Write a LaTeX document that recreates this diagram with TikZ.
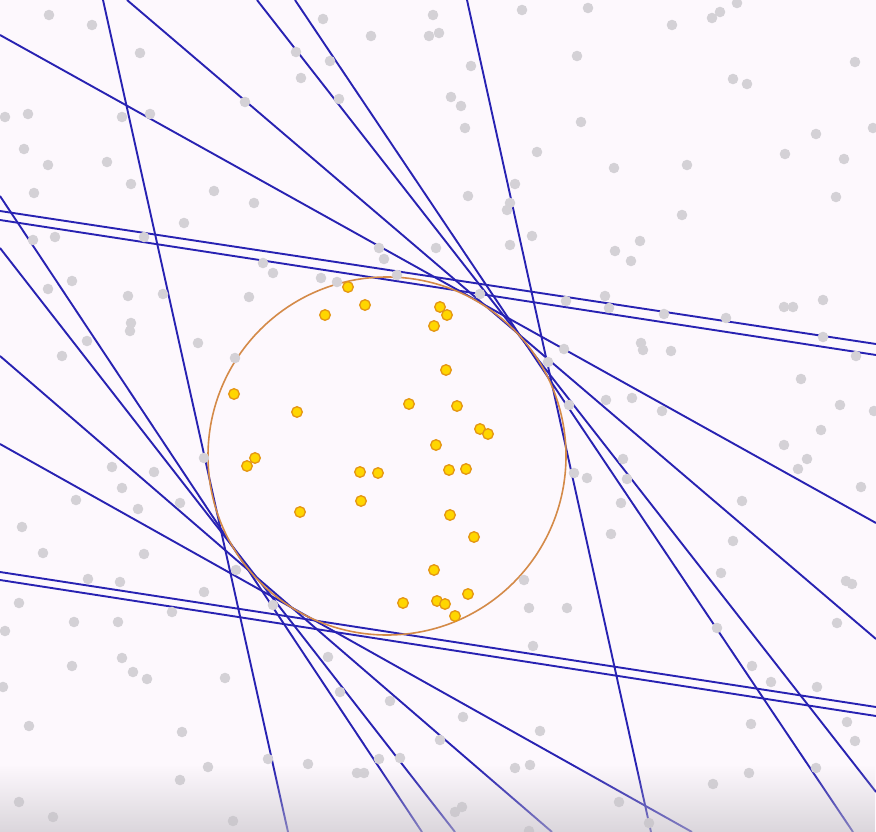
\documentclass[tikz,border=0pt]{standalone}
\usetikzlibrary{fadings}
\definecolor{bgc}{RGB}{253,248,253}
\definecolor{linec}{RGB}{40,34,178}
\definecolor{circc}{RGB}{212,138,72}
\definecolor{grayd}{RGB}{212,209,214}
\definecolor{yelf}{RGB}{255,214,0}
\definecolor{yeld}{RGB}{228,150,20}
\definecolor{fadec}{RGB}{196,192,198}
\tikzset{
  support/.style={draw=linec, line width=1.9pt},
  hull/.style={draw=circc, line width=1.6pt},
  graydot/.style={fill=grayd},
  yeldot/.style={fill=yelf, draw=yeld, line width=1.3pt}
}
\begin{document}
\begin{tikzpicture}[x=1pt,y=-1pt]
\fill[bgc] (0,0) rectangle (876,832);
\useasboundingbox (0,0) rectangle (876,832);
% support lines
\foreach \ax/\ay/\bx/\by in {103/0/288/832, 127/0/876/639, 0/35/876/523, 257/0/876/792, 295/0/853/832, 467/0/651/832, 0/196/422/832, 0/248/455/832, 0/356/552/832, 0/444/692/832, 0/572/876/707, 0/580/876/716, 0/211/876/344, 0/220/876/355}
  \draw[support] (\ax,\ay) -- (\bx,\by);
% circle
\draw[hull] (387,456) circle (179);
% gray points
\foreach \p in {(49,15),(92,25),(140,53),(245,102),(5,117),(28,114),(122,117),(150,114),(24,149),(48,165),(107,162),(131,184),(34,193),(214,191),(254,203),
(323,19),(371,36),(433,15),(429,36),(439,33),(522,10),(296,52),(330,61),(301,78),(471,66),(577,56),(451,97),(461,106),(465,128),(581,122),(339,99),(537,152),(515,184),(468,196),(510,203),
(588,8),(672,25),(712,18),(720,12),(737,3),(855,62),(733,79),(747,84),(873,128),(816,134),(785,154),(844,159),(614,168),(687,165),(836,197),
(33,240),(55,237),(184,223),(144,237),(72,281),(48,289),(128,296),(163,294),(263,263),(273,273),(249,297),(131,323),(130,331),(87,341),(198,343),(62,356),(235,358),
(507,210),(532,236),(510,245),(379,248),(384,259),(436,248),(321,278),(337,282),(397,275),(480,294),(566,301),(564,349),(548,362),(569,405),
(682,215),(640,241),(615,251),(631,261),(605,296),(609,308),(664,314),(726,318),(784,307),(793,307),(823,300),(823,337),(856,356),(641,343),(643,350),(671,351),(801,379),(840,405),(606,400),(632,398),(662,411),(874,411),
(112,467),(154,472),(122,488),(76,500),(138,509),(180,503),(204,458),(22,527),(43,553),(144,554),(236,570),(88,579),(120,582),(204,592),(19,603),(172,612),(273,605),(74,622),(118,622),
(524,580),(529,608),(567,608),(574,473),
(821,430),(784,445),(807,459),(798,469),(861,487),(623,459),(587,478),(627,479),(621,503),(742,501),(611,534),(733,541),(721,573),(846,581),(852,584),(837,623),
(5,631),(72,666),(122,658),(133,672),(147,679),(3,687),(225,678),(29,726),(182,732),(208,767),(180,780),(268,759),(19,802),(53,817),(233,821),
(533,646),(328,657),(340,692),(390,701),(463,717),(440,740),(540,731),(379,759),(400,758),(308,764),(357,773),(364,773),(515,768),(530,765),(455,812),(462,807),(529,831),
(717,628),(752,666),(771,682),(817,687),(751,724),(847,722),(855,741),(816,768),(749,773),(713,784),(619,802),(649,823)}
  \fill[graydot] \p circle (5.3);
% yellow points
\foreach \p in {(348,287),(365,305),(325,315),(440,307),(447,315),(434,326),(446,370),(409,404),(457,406),(297,412),(234,394),(480,429),(488,434),(436,445),(360,472),(378,473),(449,470),(466,469),(361,501),(300,512),(450,515),(474,537),(434,570),(403,603),(437,601),(445,604),(468,594),(455,616),(255,458),(247,466)}
  \filldraw[yeldot] \p circle (5.3);
% bottom fade
\fill[fadec, path fading=north, fill opacity=0.6] (0,765) rectangle (876,832);
\end{tikzpicture}
\end{document}
